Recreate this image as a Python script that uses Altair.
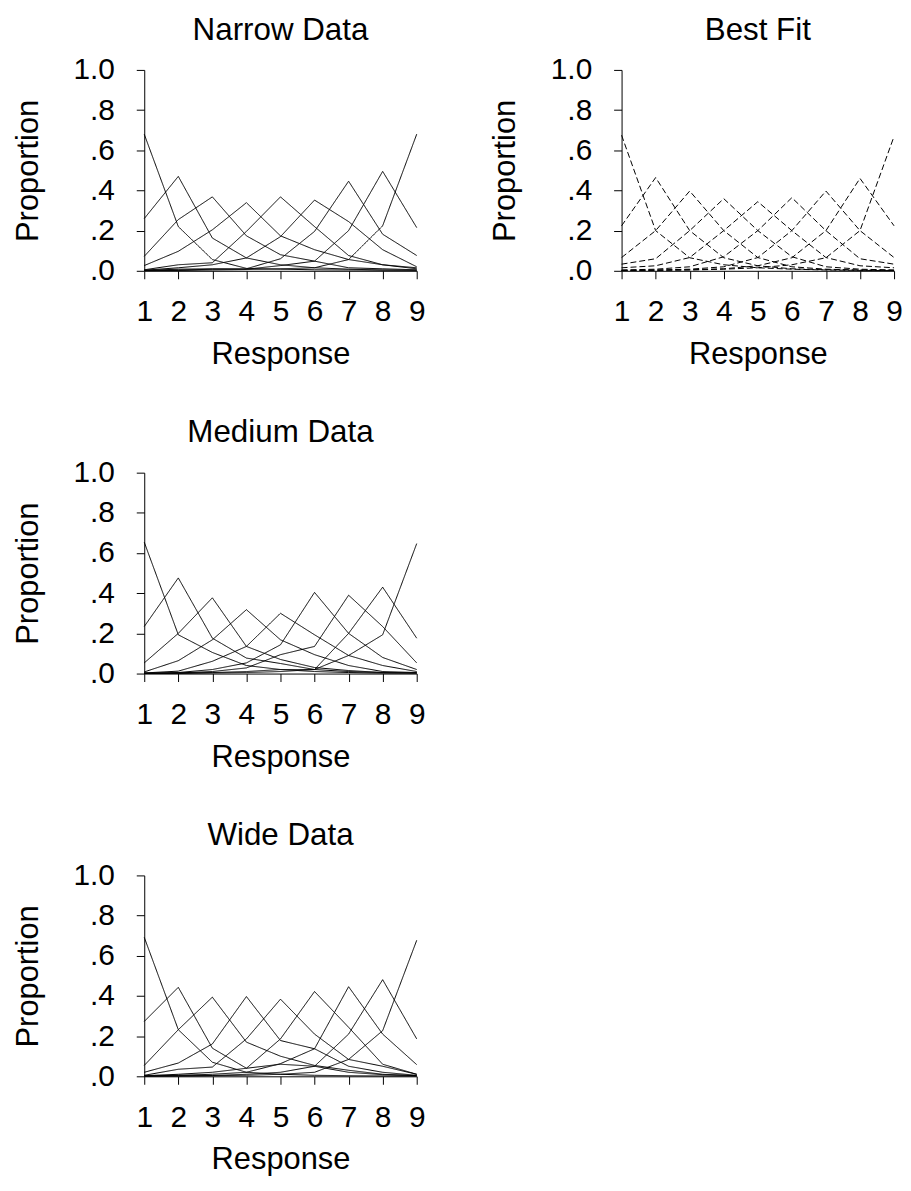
import altair as alt
import pandas as pd

responses = [1, 2, 3, 4, 5, 6, 7, 8, 9]
stimuli = [1, 2, 3, 4, 5, 6, 7, 8, 9]

narrow_s1 = [0.680, 0.220, 0.056, 0.012, 0.008, 0.005, 0.004, 0.003, 0.002]
narrow_s2 = [0.260, 0.470, 0.163, 0.064, 0.030, 0.015, 0.008, 0.004, 0.003]
narrow_s3 = [0.072, 0.255, 0.368, 0.174, 0.080, 0.048, 0.015, 0.010, 0.005]
narrow_s4 = [0.026, 0.097, 0.204, 0.339, 0.174, 0.105, 0.056, 0.030, 0.010]
narrow_s5 = [0.005, 0.030, 0.040, 0.196, 0.368, 0.220, 0.076, 0.030, 0.015]
narrow_s6 = [0.003, 0.015, 0.030, 0.064, 0.170, 0.352, 0.245, 0.105, 0.020]
narrow_s7 = [0.002, 0.008, 0.010, 0.010, 0.060, 0.196, 0.446, 0.182, 0.076]
narrow_s8 = [0.002, 0.003, 0.008, 0.008, 0.026, 0.048, 0.200, 0.495, 0.215]
narrow_s9 = [0.001, 0.002, 0.004, 0.006, 0.010, 0.015, 0.056, 0.224, 0.680]

fit_s1 = [0.675, 0.200, 0.065, 0.030, 0.015, 0.008, 0.004, 0.002, 0.001]
fit_s2 = [0.224, 0.464, 0.200, 0.065, 0.025, 0.010, 0.005, 0.003, 0.002]
fit_s3 = [0.066, 0.200, 0.397, 0.200, 0.066, 0.020, 0.008, 0.004, 0.002]
fit_s4 = [0.033, 0.060, 0.200, 0.359, 0.200, 0.070, 0.020, 0.008, 0.004]
fit_s5 = [0.015, 0.025, 0.066, 0.200, 0.344, 0.200, 0.066, 0.025, 0.015]
fit_s6 = [0.004, 0.008, 0.020, 0.070, 0.200, 0.364, 0.200, 0.060, 0.033]
fit_s7 = [0.002, 0.004, 0.008, 0.020, 0.066, 0.200, 0.397, 0.200, 0.066]
fit_s8 = [0.002, 0.003, 0.005, 0.010, 0.025, 0.065, 0.200, 0.460, 0.224]
fit_s9 = [0.001, 0.002, 0.004, 0.008, 0.015, 0.030, 0.065, 0.200, 0.669]

medium_s1 = [0.654, 0.193, 0.105, 0.040, 0.020, 0.010, 0.005, 0.002, 0.002]
medium_s2 = [0.234, 0.476, 0.176, 0.077, 0.050, 0.020, 0.010, 0.005, 0.003]
medium_s3 = [0.053, 0.200, 0.377, 0.135, 0.070, 0.030, 0.015, 0.005, 0.003]
medium_s4 = [0.008, 0.064, 0.168, 0.318, 0.168, 0.094, 0.040, 0.010, 0.005]
medium_s5 = [0.003, 0.012, 0.061, 0.135, 0.300, 0.193, 0.090, 0.040, 0.010]
medium_s6 = [0.002, 0.005, 0.020, 0.053, 0.143, 0.404, 0.200, 0.080, 0.020]
medium_s7 = [0.001, 0.003, 0.010, 0.028, 0.094, 0.135, 0.390, 0.234, 0.053]
medium_s8 = [0.001, 0.002, 0.005, 0.010, 0.020, 0.020, 0.200, 0.430, 0.176]
medium_s9 = [0.001, 0.001, 0.003, 0.005, 0.010, 0.020, 0.090, 0.193, 0.647]

wide_s1 = [0.692, 0.232, 0.070, 0.020, 0.010, 0.005, 0.003, 0.002, 0.001]
wide_s2 = [0.273, 0.443, 0.140, 0.040, 0.060, 0.050, 0.020, 0.008, 0.003]
wide_s3 = [0.054, 0.232, 0.394, 0.170, 0.100, 0.054, 0.030, 0.010, 0.003]
wide_s4 = [0.020, 0.066, 0.161, 0.397, 0.178, 0.137, 0.050, 0.020, 0.005]
wide_s5 = [0.005, 0.035, 0.046, 0.186, 0.384, 0.210, 0.084, 0.050, 0.010]
wide_s6 = [0.003, 0.010, 0.020, 0.040, 0.186, 0.422, 0.244, 0.060, 0.010]
wide_s7 = [0.002, 0.005, 0.010, 0.020, 0.063, 0.137, 0.446, 0.210, 0.058]
wide_s8 = [0.001, 0.002, 0.004, 0.010, 0.020, 0.050, 0.210, 0.481, 0.186]
wide_s9 = [0.001, 0.002, 0.003, 0.005, 0.010, 0.020, 0.084, 0.227, 0.677]

panels = {
    "Narrow Data": [narrow_s1, narrow_s2, narrow_s3, narrow_s4, narrow_s5,
                    narrow_s6, narrow_s7, narrow_s8, narrow_s9],
    "Best Fit": [fit_s1, fit_s2, fit_s3, fit_s4, fit_s5,
                 fit_s6, fit_s7, fit_s8, fit_s9],
    "Medium Data": [medium_s1, medium_s2, medium_s3, medium_s4, medium_s5,
                    medium_s6, medium_s7, medium_s8, medium_s9],
    "Wide Data": [wide_s1, wide_s2, wide_s3, wide_s4, wide_s5,
                  wide_s6, wide_s7, wide_s8, wide_s9],
}

rows = []
for name, series in panels.items():
    for stim, vals in zip(stimuli, series):
        for r, v in zip(responses, vals):
            rows.append({"panel": name, "stimulus": stim, "response": r, "proportion": v})
df = pd.DataFrame(rows)

FONT = "Liberation Sans"
W, H = 274, 202


def panel(name, dashed=False):
    mark = alt.Chart(df[df["panel"] == name]).mark_line(
        color="black", strokeWidth=1, strokeDash=[6, 3] if dashed else [1, 0]
    )
    return mark.encode(
        x=alt.X("response:Q",
                scale=alt.Scale(domain=[1, 9], nice=False, zero=False),
                axis=alt.Axis(values=responses, format="d", title="Response",
                              grid=False, tickSize=8, labelPadding=18,
                              labelFlush=False, titlePadding=13)),
        y=alt.Y("proportion:Q",
                scale=alt.Scale(domain=[0, 1], nice=False),
                axis=alt.Axis(values=[0, 0.2, 0.4, 0.6, 0.8, 1.0],
                              labelExpr="datum.value == 1 ? '1.0' : replace(format(datum.value, '.1f'), '0.', '.')",
                              title="Proportion", grid=False, tickSize=8,
                              labelPadding=22, labelFlush=False, titlePadding=29)),
        detail="stimulus:N",
    ).properties(
        width=W, height=H,
        title=alt.TitleParams(name, fontSize=31.5, font=FONT, fontWeight="normal",
                              anchor="middle", frame="group", offset=9, color="black"),
    )


blank = alt.Chart(df[df["panel"] == "Best Fit"]).mark_point(opacity=0).encode(
    x=alt.X("response:Q", axis=None),
    y=alt.Y("proportion:Q", axis=None),
).properties(width=W, height=H)

chart = alt.concat(
    panel("Narrow Data"), panel("Best Fit", dashed=True),
    panel("Medium Data"), blank,
    panel("Wide Data"),
    columns=2, bounds="flush",
    spacing=alt.RowColnumber(row=203, column=206),
).configure_axis(
    labelFont=FONT, titleFont=FONT, labelFontSize=30, titleFontSize=31,
    labelColor="black", titleColor="black", domainColor="black",
    tickColor="black", domainWidth=1, tickWidth=1, titleFontWeight="normal",
).configure_view(stroke=None).properties(
    background="white",
    padding={"left": 4, "top": 3, "right": 0, "bottom": 0},
)

chart.save("out.html", embed_options={"renderer": "svg", "actions": False})
